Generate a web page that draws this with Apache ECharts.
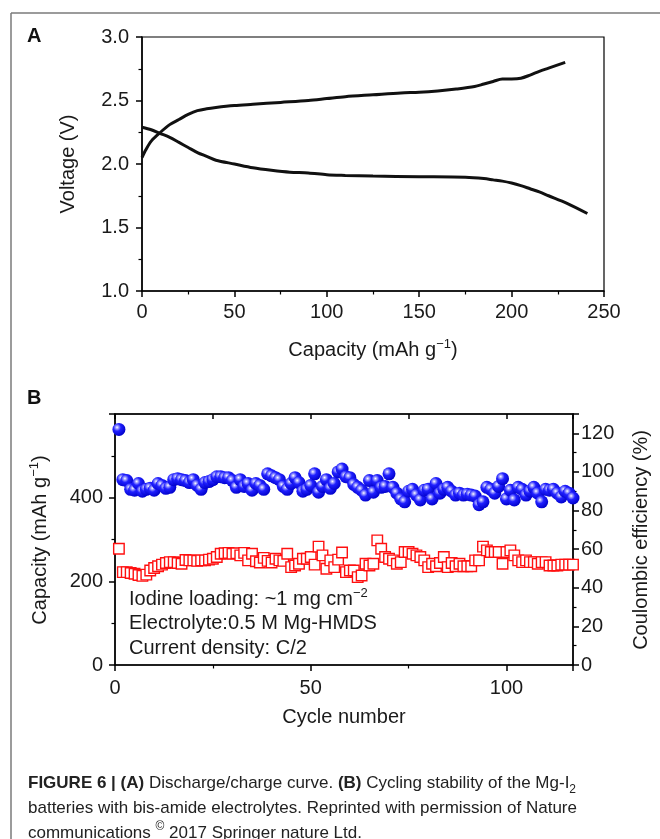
<!DOCTYPE html>
<html><head><meta charset="utf-8">
<script src="https://cdn.jsdelivr.net/npm/echarts@6/dist/echarts.min.js"></script>
<style>html,body{margin:0;padding:0;background:#fff}#c{width:660px;height:839px}</style>
</head><body><div id="c"></div>
<script>
// ---- Panel A: discharge / charge curves ----
const chargeCap  = [0, 2, 5, 10, 15, 20, 25, 30, 35, 40, 50, 60, 75, 90, 100, 110, 125, 140, 150, 160, 170, 180, 185, 190, 195, 200, 205, 210, 215, 220, 229];
const chargeVolt = [2.05, 2.11, 2.18, 2.25, 2.31, 2.35, 2.39, 2.42, 2.435, 2.445, 2.46, 2.47, 2.485, 2.50, 2.515, 2.53, 2.545, 2.56, 2.565, 2.575, 2.59, 2.61, 2.63, 2.65, 2.67, 2.67, 2.675, 2.70, 2.73, 2.755, 2.80];
const dischargeCap  = [0, 5, 10, 15, 20, 25, 30, 35, 40, 50, 60, 70, 80, 90, 100, 110, 125, 150, 175, 185, 190, 195, 200, 205, 210, 215, 220, 230, 241];
const dischargeVolt = [2.29, 2.27, 2.24, 2.21, 2.17, 2.13, 2.09, 2.06, 2.03, 2.0, 1.97, 1.95, 1.935, 1.93, 1.915, 1.91, 1.905, 1.90, 1.895, 1.885, 1.875, 1.865, 1.85, 1.83, 1.805, 1.78, 1.75, 1.69, 1.61];
const voltTicks = [1.0, 1.5, 2.0, 2.5, 3.0];
const capTicksA = [0, 50, 100, 150, 200, 250];

// ---- Panel B: cycling (cycle n = index + 1) ----
const capacityB = [278,222,222,220,218,215,213,216,226,232,236,240,244,246,246,244,242,251,250,250,
  249,250,250,252,254,258,266,267,268,266,267,262,268,250,266,248,245,256,249,245,
  254,250,249,266,234,238,242,254,254,258,240,283,262,230,250,234,252,269,222,226,
  226,210,214,242,238,242,298,278,258,254,250,242,246,270,270,266,262,258,250,234,
  242,236,244,258,234,244,236,242,236,236,236,250,250,283,274,270,270,270,242,270,
  274,262,250,246,250,246,246,242,246,246,238,238,238,240,240,240,240];
const efficiencyB = [122,96,95.5,91,90.5,94,90,91,91.5,90.5,94,93,91.5,92,96,96.5,96,95.5,94.5,96,
  93,91,94.5,95,96,97.5,97.5,97,97,95.5,92,96,92.5,94,90.5,94,93,91,99,98,
  97,96,92.5,91,94,97,94.5,90,91,93,99,89.5,92.5,96,91.5,94,100,101.5,97.5,97,
  93.5,92,90.5,88,95.5,89.5,95.5,92,92.5,99,92,89,86,84.5,90,91,88,85.5,90.5,91,
  86,94,89,91,92,90,88,89,88,88.5,88,87.5,83,84.5,92,91,89,92.5,96.5,86,
  90.5,85.5,92,91,88,90,92,89,84.5,91,90.5,91,89,87,90,89,86.5];
const capTicksB = [0, 200, 400];
const ceTicks = [0, 20, 40, 60, 80, 100, 120];
const cycleTicks = [0, 50, 100];

const FF = 'Liberation Sans, Arial, sans-serif';
const TXT = '#1a1a1a';

const chart = echarts.init(document.getElementById('c'), null, {renderer: 'canvas'});

const lineA = (xs, ys) => xs.map((x, i) => [x, ys[i]]);
const ptsB = arr => arr.map((v, i) => [i + 1, v]);

const axisCommon = {
  axisLine: {show: true, onZero: false, lineStyle: {color: '#000', width: 1.5}},
  axisTick: {show: true, length: 6, lineStyle: {color: '#000', width: 1.5}},
  minorTick: {show: true, splitNumber: 2, length: 3.5, lineStyle: {color: '#000', width: 1.2}},
  splitLine: {show: false},
  minorSplitLine: {show: false},
  axisLabel: {fontFamily: FF, fontSize: 20, color: TXT}
};
function ax(extra) {
  const o = JSON.parse(JSON.stringify(axisCommon));
  for (const k in extra) {
    if (typeof extra[k] === 'object' && o[k] && !Array.isArray(extra[k])) Object.assign(o[k], extra[k]);
    else o[k] = extra[k];
  }
  return o;
}

const sphere = {
  type: 'radial', x: 0.36, y: 0.34, r: 0.7,
  colorStops: [
    {offset: 0, color: '#ffffff'},
    {offset: 0.16, color: '#a0a0ff'},
    {offset: 0.42, color: '#2020ff'},
    {offset: 1, color: '#0000c8'}
  ]
};

const titleStyle = {fontFamily: FF, fontSize: 20, fill: TXT, lineHeight: 24};
const supStyle = {fontFamily: FF, fontSize: 13, fill: TXT, verticalAlign: 'top', lineHeight: 13};

function capTitle() {
  return {
    text: '{a|Capacity (mAh g}{s|−1}{a|)}',
    rich: {a: titleStyle, s: supStyle},
    align: 'center', verticalAlign: 'middle'
  };
}

const option = {
  animation: false,
  backgroundColor: '#fff',
  grid: [
    {left: 142, top: 37, width: 462, height: 254, show: true, borderColor: '#000', borderWidth: 1.2, backgroundColor: 'transparent'},
    {left: 115, top: 414, width: 458, height: 251, show: true, borderColor: '#000', borderWidth: 1.2, backgroundColor: 'transparent'}
  ],
  xAxis: [
    ax({gridIndex: 0, type: 'value', min: capTicksA[0], max: capTicksA[capTicksA.length - 1], interval: 50,
        axisLabel: {margin: 11}}),
    ax({gridIndex: 1, type: 'value', min: 0, max: 117, interval: 50,
        axisLabel: {margin: 13, showMaxLabel: false}}),
    ax({gridIndex: 1, type: 'value', position: 'top', min: 0, max: 117, interval: 25,
        axisLabel: {show: false}, axisTick: {inside: true, length: 5}, minorTick: {show: false}})
  ],
  yAxis: [
    ax({gridIndex: 0, type: 'value', min: voltTicks[0], max: voltTicks[voltTicks.length - 1], interval: 0.5,
        axisLabel: {margin: 13, formatter: v => v.toFixed(1)}}),
    ax({gridIndex: 1, type: 'value', min: 0, max: 600, interval: 200,
        axisLabel: {margin: 12, showMaxLabel: false}}),
    ax({gridIndex: 1, type: 'value', position: 'right', min: 0, max: 130, interval: 20,
        axisLabel: {margin: 8, showMaxLabel: false}})
  ],
  series: [
    {type: 'line', xAxisIndex: 0, yAxisIndex: 0, data: lineA(chargeCap, chargeVolt), smooth: 0.3,
     showSymbol: false, lineStyle: {color: '#111', width: 3}},
    {type: 'line', xAxisIndex: 0, yAxisIndex: 0, data: lineA(dischargeCap, dischargeVolt), smooth: 0.3,
     showSymbol: false, lineStyle: {color: '#111', width: 3}},
    {type: 'scatter', xAxisIndex: 1, yAxisIndex: 1, data: ptsB(capacityB), symbol: 'rect', symbolSize: 10.5,
     itemStyle: {color: '#ffffff', borderColor: '#ff1010', borderWidth: 1.4, opacity: 1}, z: 3},
    {type: 'scatter', xAxisIndex: 1, yAxisIndex: 2, data: ptsB(efficiencyB), symbol: 'circle', symbolSize: 13,
     itemStyle: {color: sphere, opacity: 1}, z: 4}
  ],
  graphic: [
    // outer frame lines
    {type: 'line', shape: {x1: 11, y1: 13, x2: 660, y2: 13}, style: {stroke: '#7a7a7a', lineWidth: 1.5}, silent: true},
    {type: 'line', shape: {x1: 11, y1: 13, x2: 11, y2: 839}, style: {stroke: '#7a7a7a', lineWidth: 1.5}, silent: true},
    // panel letters
    {type: 'text', x: 27, y: 36, style: {text: 'A', fontFamily: FF, fontSize: 20, fontWeight: 'bold', fill: '#111', align: 'left', verticalAlign: 'middle'}},
    {type: 'text', x: 27, y: 398, style: {text: 'B', fontFamily: FF, fontSize: 20, fontWeight: 'bold', fill: '#111', align: 'left', verticalAlign: 'middle'}},
    // panel A axis titles
    {type: 'text', x: 373, y: 350, style: capTitle()},
    {type: 'text', x: 68, y: 164, rotation: Math.PI / 2,
     style: {text: 'Voltage (V)', fontFamily: FF, fontSize: 20, fill: TXT, align: 'center', verticalAlign: 'middle'}},
    // panel B axis titles
    {type: 'text', x: 344, y: 717, style: {text: 'Cycle number', fontFamily: FF, fontSize: 20, fill: TXT, align: 'center', verticalAlign: 'middle'}},
    {type: 'text', x: 40, y: 540, rotation: Math.PI / 2, style: capTitle()},
    {type: 'text', x: 641, y: 540, rotation: Math.PI / 2,
     style: {text: 'Coulombic efficiency (%)', fontFamily: FF, fontSize: 20, fill: TXT, align: 'center', verticalAlign: 'middle'}},
    // annotation in panel B
    {type: 'text', x: 129, y: 587, style: {
      text: '{a|Iodine loading: ~1 mg cm}{s|−2}\n{a|Electrolyte:0.5 M Mg-HMDS}\n{a|Current density: C/2}',
      rich: {a: {fontFamily: FF, fontSize: 20, fill: TXT, lineHeight: 24.5}, s: supStyle},
      align: 'left', verticalAlign: 'top'}},
    // caption
    {type: 'text', x: 28, y: 771, style: {
      text: '{b|FIGURE 6 | (A)}{n| Discharge/charge curve. }{b|(B)}{n| Cycling stability of the Mg-I}{d|2}\n' +
            '{n|batteries with bis-amide electrolytes. Reprinted with permission of Nature}\n' +
            '{n|communications }{u|©}{n| 2017 Springer nature Ltd.}',
      rich: {
        n: {fontFamily: FF, fontSize: 17, fill: '#222', lineHeight: 25},
        b: {fontFamily: FF, fontSize: 17, fontWeight: 'bold', fill: '#222', lineHeight: 25},
        d: {fontFamily: FF, fontSize: 12, fill: '#222', lineHeight: 12, verticalAlign: 'bottom'},
        u: {fontFamily: FF, fontSize: 12, fill: '#222', lineHeight: 12, verticalAlign: 'top'}
      },
      align: 'left', verticalAlign: 'top'}}
  ]
};
chart.setOption(option);
</script>
</body></html>
